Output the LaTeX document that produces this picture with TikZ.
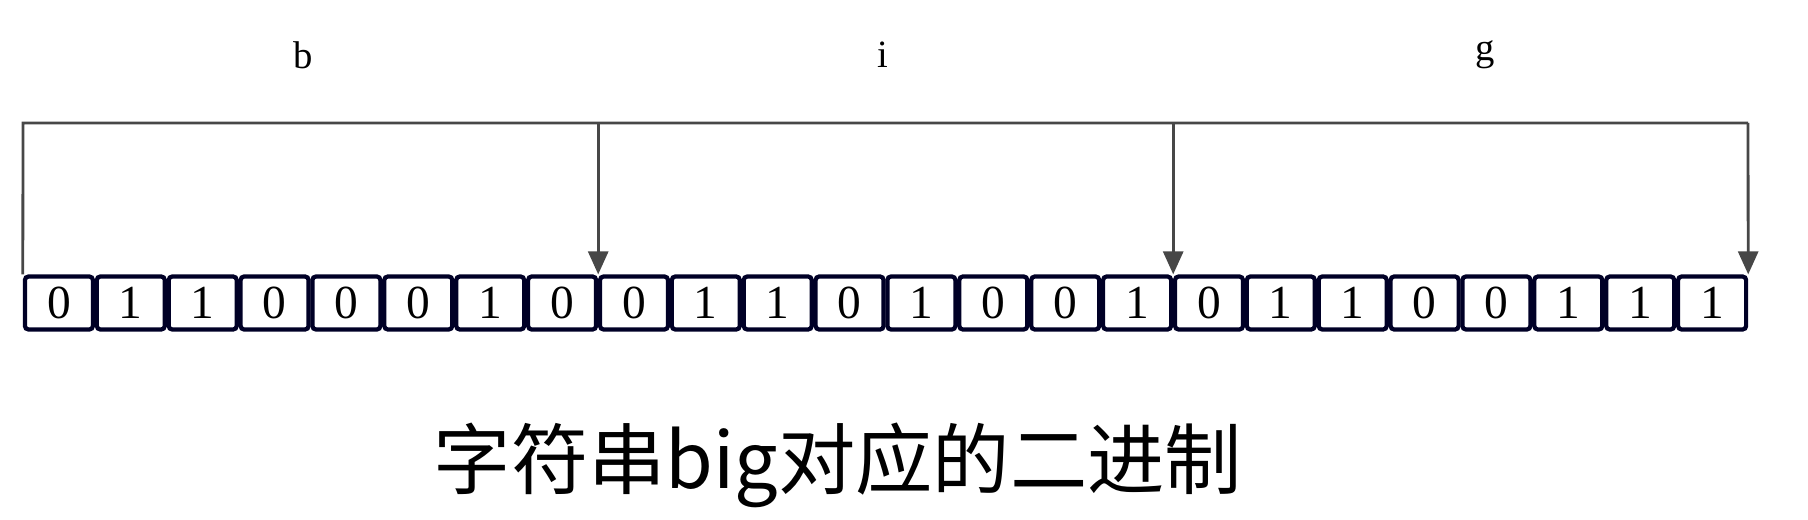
\documentclass[tikz,border=0pt]{standalone}
\usepackage{fontspec}
\setmainfont{Liberation Serif}
\newfontfamily\cjk{Noto Sans CJK SC}
\usetikzlibrary{arrows.meta}
\tikzset{
  bit/.style={draw=black!85!blue, line width=2.4pt, rounded corners=2pt,
    minimum width=1.36cm, minimum height=1.06cm, inner sep=0pt,
    font=\fontsize{27}{30}\selectfont},
  letter/.style={font=\fontsize{22}{25}\selectfont},
  wire/.style={draw=black!72, line width=1.6pt},
  arr/.style={wire, -{Triangle[length=0.46cm,width=0.4cm]}}
}
\begin{document}
\begin{tikzpicture}[x=0.02cm, y=-0.02cm]
  \useasboundingbox (0,0) rectangle (1808,520);
  \draw
    (303,55) node[letter] (lb){b}
    (883,55) node[letter] (li){i}
    (1485,55) node[letter] (lg){g};
  \draw
    (58.9,303) node[bit] (b0){0}
    (130.8,303) node[bit] (b1){1}
    (202.7,303) node[bit] (b2){1}
    (274.6,303) node[bit] (b3){0}
    (346.4,303) node[bit] (b4){0}
    (418.3,303) node[bit] (b5){0}
    (490.2,303) node[bit] (b6){1}
    (562.1,303) node[bit] (b7){0}
    (634.0,303) node[bit] (b8){0}
    (705.8,303) node[bit] (b9){1}
    (777.7,303) node[bit] (b10){1}
    (849.6,303) node[bit] (b11){0}
    (921.4,303) node[bit] (b12){1}
    (993.3,303) node[bit] (b13){0}
    (1065.2,303) node[bit] (b14){0}
    (1137.1,303) node[bit] (b15){1}
    (1209.0,303) node[bit] (b16){0}
    (1280.8,303) node[bit] (b17){1}
    (1352.7,303) node[bit] (b18){1}
    (1424.6,303) node[bit] (b19){0}
    (1496.4,303) node[bit] (b20){0}
    (1568.3,303) node[bit] (b21){1}
    (1640.2,303) node[bit] (b22){1}
    (1712.1,303) node[bit] (b23){1};
  \coordinate (tl) at (23,123);
  \coordinate (tr) at (1748,123);
  \begin{scope}
    \draw[wire] (b0.north west) -- (tl) -- (tr);
    \draw[arr] (tr) -- (b23.north east);
    \draw[arr] (tl -| b7.north east) -- (b7.north east);
    \draw[arr] (tl -| b15.north east) -- (b15.north east);
  \end{scope}
  \node[font=\cjk\fontsize{44}{50}\selectfont] (cap) at (838,465) {字符串big对应的二进制};
\end{tikzpicture}
\end{document}
